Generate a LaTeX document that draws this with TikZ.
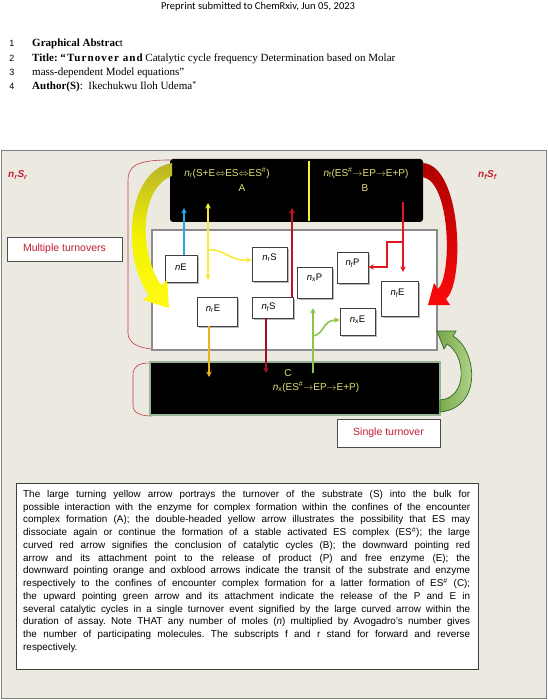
\documentclass[tikz,border=0pt]{standalone}
\usepackage{fontspec}
\setmainfont{Liberation Serif}
\setsansfont{Liberation Sans}
\newfontfamily\carlito{Carlito}
\usetikzlibrary{arrows.meta,shadows}
\definecolor{panelbg}{RGB}{236,233,224}
\definecolor{redlbl}{RGB}{192,30,50}
\definecolor{paleyel}{RGB}{228,224,120}
\definecolor{yolive}{RGB}{185,180,40}
\definecolor{ybright}{RGB}{255,250,20}
\definecolor{rdark}{RGB}{175,0,0}
\definecolor{rbright}{RGB}{250,10,10}
\definecolor{gfill}{RGB}{140,196,80}
\definecolor{gdark}{RGB}{45,105,40}
\definecolor{cyanarr}{RGB}{40,168,224}
\definecolor{yelarr}{RGB}{245,238,50}
\definecolor{redarr}{RGB}{225,25,30}
\definecolor{thinred}{RGB}{195,20,30}
\definecolor{orangearr}{RGB}{240,176,32}
\definecolor{oxblood}{RGB}{160,16,32}
\definecolor{greenarr}{RGB}{140,196,80}
\definecolor{bracketred}{RGB}{190,60,75}
\newcommand\nsub[1]{\textit{n}\textsubscript{#1}}
\frenchspacing
\begin{document}
\begin{tikzpicture}[x=1pt,y=-1pt,
  smallbox/.style={draw=black!75, fill=white, line width=0.6pt, inner sep=0pt,
    drop shadow={shadow xshift=1.6pt,shadow yshift=-1.6pt,fill=black!40,opacity=0.7}},
  lbl/.style={font=\sffamily\fontsize{9.5}{11}\selectfont, text=black},
  notebox/.style={draw=black!70, fill=white, line width=0.7pt, text=redlbl,
    font=\sffamily\fontsize{10.5}{12}\selectfont},
  ylw/.style={font=\sffamily\fontsize{10}{12}\selectfont, text=paleyel, inner sep=0pt},
  conn/.style={line width=1.6pt, -{Stealth[length=5.5pt,width=5.5pt]}},
  bracket/.style={draw=bracketred, line width=0.6pt},
  hdrline/.style={anchor=base west, inner sep=0pt, font=\rmfamily\fontsize{11}{13}\selectfont},
  lnum/.style={anchor=base, inner sep=0pt, font=\sffamily\fontsize{9}{11}\selectfont},
  redital/.style={text=redlbl, font=\sffamily\bfseries\itshape\fontsize{10}{12}\selectfont, anchor=west, inner sep=0pt}
]
\useasboundingbox (0,0) rectangle (547,700);
\fill[white] (0,0) rectangle (547,700);

% header
\node[font=\carlito\fontsize{10.5}{12}\selectfont, inner sep=0pt] (hdr) at (258,6.5) {Preprint submitted to ChemRxiv, Jun 05, 2023};
\node[lnum] (l1) at (12,47) {1};
\node[lnum] (l2) at (12,61.5) {2};
\node[lnum] (l3) at (12,75.5) {3};
\node[lnum] (l4) at (12,90) {4};
\node[hdrline] (t1) at (32,47) {\textbf{Graphical Abstrac}t};
\node[hdrline] (t2) at (32,61.5) {\textbf{Title:} {\bfseries\addfontfeatures{LetterSpace=10}“Turnover and} Catalytic cycle frequency Determination based on Molar};
\node[hdrline] (t3) at (32,75.5) {mass-dependent Model equations”};
\node[hdrline] (t4) at (32,90) {\textbf{Author(S)}:\ \ Ikechukwu Iloh Udema\textsuperscript{*}};

% panel
\draw[fill=panelbg, draw=black!50, line width=0.8pt] (1,150) rectangle (546,698);

% side labels
\node[redital] (nrSr) at (8,175) {\textit{n}\textsubscript{r}S\textsubscript{r}};
\node[redital] (nfSf) at (478,175) {\textit{n}\textsubscript{f}S\textsubscript{f}};

% brackets
\draw[bracket] (170,160) .. controls (136,160) and (128,166) .. (128,181) -- (128,333) .. controls (128,344) and (140,348) .. (152,349);
\draw[bracket] (150,363) .. controls (139,363) and (133,366) .. (133,375) -- (133,405) .. controls (133,413) and (140,416) .. (152,416);

% black box A/B
\node[fill=black, rounded corners=3pt, minimum width=253pt, minimum height=63pt, inner sep=0pt] (AB) at (296.5,190.5) {};
\draw[draw=yelarr, line width=1.5pt] (309,161) -- (309,221);
\node[ylw] (Atxt) at (227,173) {\nsub{r}(S+E$\Leftrightarrow$ES$\Leftrightarrow$ES\textsuperscript{\#})};
\node[ylw] (Alet) at (242,188) {A};
\node[ylw] (Btxt) at (366,173) {\nsub{f}(ES\textsuperscript{\#}$\rightarrow$EP$\rightarrow$E+P)};
\node[ylw] (Blet) at (365,188) {B};

% white bulk box
\node[fill=white, draw=black!45, line width=2pt, minimum width=285pt, minimum height=120pt, inner sep=0pt] (bulk) at (294.5,290) {};

% black box C
\node[fill=black, draw={rgb,255:red,150;green,180;blue,150}, line width=1.2pt, minimum width=290pt, minimum height=53pt, inner sep=0pt] (Cbox) at (295,388.5) {};
\node[ylw] (Clet) at (288,373) {C};
\node[ylw] (Ctxt) at (316,387) {\nsub{x}(ES\textsuperscript{\#}$\rightarrow$EP$\rightarrow$E+P)};

% notes
\node[notebox, minimum width=115pt, minimum height=24pt] (multi) at (64.5,249) {Multiple turnovers};
\node[notebox, minimum width=103pt, minimum height=28pt] (single) at (388.5,433) {Single turnover};

% small boxes
\node[smallbox, minimum width=32pt, minimum height=27pt, label={[lbl,yshift=1pt]center:\textit{n}E}] (nE) at (181,268.5) {};
\node[smallbox, minimum width=35pt, minimum height=34pt, label={[lbl,yshift=6pt]center:\nsub{r}S}] (rS) at (269.5,264) {};
\node[smallbox, minimum width=40pt, minimum height=29pt, label={[lbl,xshift=-4pt,yshift=3pt]center:\nsub{r}E}] (rE) at (217,311.5) {};
\node[smallbox, minimum width=41pt, minimum height=21pt, label={[lbl,xshift=-4pt]center:\nsub{f}S}] (fS) at (272.5,307.5) {};
\node[smallbox, minimum width=35pt, minimum height=31pt, label={[lbl,yshift=4.5pt]center:\nsub{x}P}] (xP) at (314.5,282.5) {};
\node[smallbox, minimum width=31pt, minimum height=31pt, label={[lbl,yshift=4.5pt]center:\nsub{f}P}] (fP) at (352.5,267.5) {};
\node[smallbox, minimum width=37pt, minimum height=35pt, label={[lbl,xshift=-2pt,yshift=5.5pt]center:\nsub{f}E}] (fE) at (399.5,298.5) {};
\node[smallbox, minimum width=35pt, minimum height=27pt, label={[lbl,yshift=1.5pt]center:\nsub{x}E}] (xE) at (357.5,321.5) {};

% connector coordinates
\coordinate (blueTip) at (184,208);
\coordinate (yTop) at (208,203);
\coordinate (yBot) at (208,280);
\coordinate (yBr) at (208,250);
\coordinate (redTip) at (292,208);
\coordinate (redBase) at (292,297);
\coordinate (bTop) at (403,202);
\coordinate (bTip) at (403,272);
\coordinate (bBr) at (403,242);
\coordinate (orTip) at (209,377);
\coordinate (oxTip) at (266,373);
\coordinate (gBase) at (313,373);
\coordinate (gTip) at (313,308);
\coordinate (gBr) at (313,336);

% connectors
\draw[conn, cyanarr] (nE.north -| blueTip) -- (blueTip);
\draw[conn, yelarr, {Stealth[length=5.5pt,width=5.5pt]}-{Stealth[length=5.5pt,width=5.5pt]}] (yTop) -- (yBot);
\draw[conn, yelarr] (yBr) .. controls (224,248) and (228,261) .. (rS.west |- 0,260);
\draw[conn, thinred, line width=1.3pt] (redBase) -- (redTip);
\draw[conn, redarr] (bTop) -- (bTip);
\draw[conn, redarr] (bBr) -- (387,242) -- (387,267) -- (fP.east |- 0,267);
\draw[conn, orangearr] ([xshift=-8pt]rE.south) -- (orTip);
\draw[conn, oxblood] ([xshift=-6.5pt]fS.south) -- (oxTip);
\draw[conn, greenarr] (gBase) -- (gTip);
\draw[conn, greenarr] (gBr) .. controls (325,334) and (322,320) .. (xE.west |- 0,320);

% big yellow arrow
\shade[top color=yolive, bottom color=ybright, middle color=yellow!90!olive]
  (172,163) .. controls (126,170) and (121,258) .. (149,295) -- (143,300) -- (169,308) -- (167,280) -- (161,285)
  .. controls (139,253) and (139,188) .. (172,176) -- cycle;
% big red arrow
\shade[top color=rdark, bottom color=rbright]
  (423,163) .. controls (462,166) and (465,283) .. (446,299) -- (450,305) -- (428,305) -- (434,283) -- (438,289)
  .. controls (452,276) and (451,183) .. (423,177) -- cycle;
% green curved arrow
\shade[left color=gfill!85!black, right color=gfill!55!white, draw=gdark, line width=0.7pt]
  (440,412) .. controls (483,408) and (477,350) .. (453,336) -- (456,331) -- (437,331) -- (444,349) -- (447,344)
  .. controls (466,355) and (468,398) .. (440,400) -- cycle;

% caption
\node[draw=black!75, fill=white, line width=0.8pt, minimum width=462pt, minimum height=186pt, inner sep=0pt] (capbox) at (247,576) {};
\node[anchor=north west, inner sep=0pt, text width=447pt, align=justify,
  font=\sffamily\fontsize{9.9}{12.75}\selectfont] (captxt) at (23,490) {%
The large turning yellow arrow portrays the turnover of the substrate (S) into the bulk for\linebreak
possible interaction with the enzyme for complex formation within the confines of the encounter\linebreak
complex formation (A); the double-headed yellow arrow illustrates the possibility that ES may\linebreak
dissociate again or continue the formation of a stable activated ES complex (ES\textsuperscript{\#}); the large\linebreak
curved red arrow signifies the conclusion of catalytic cycles (B); the downward pointing red\linebreak
arrow and its attachment point to the release of product (P) and free enzyme (E); the\linebreak
downward pointing orange and oxblood arrows indicate the transit of the substrate and enzyme\linebreak
respectively to the confines of encounter complex formation for a latter formation of ES\textsuperscript{\#} (C);\linebreak
the upward pointing green arrow and its attachment indicate the release of the P and E in\linebreak
several catalytic cycles in a single turnover event signified by the large curved arrow within the\linebreak
duration of assay. Note THAT any number of moles (\textit{n}) multiplied by Avogadro's number gives\linebreak
the number of participating molecules. The subscripts f and r stand for forward and reverse\linebreak
respectively.};
\end{tikzpicture}
\end{document}
